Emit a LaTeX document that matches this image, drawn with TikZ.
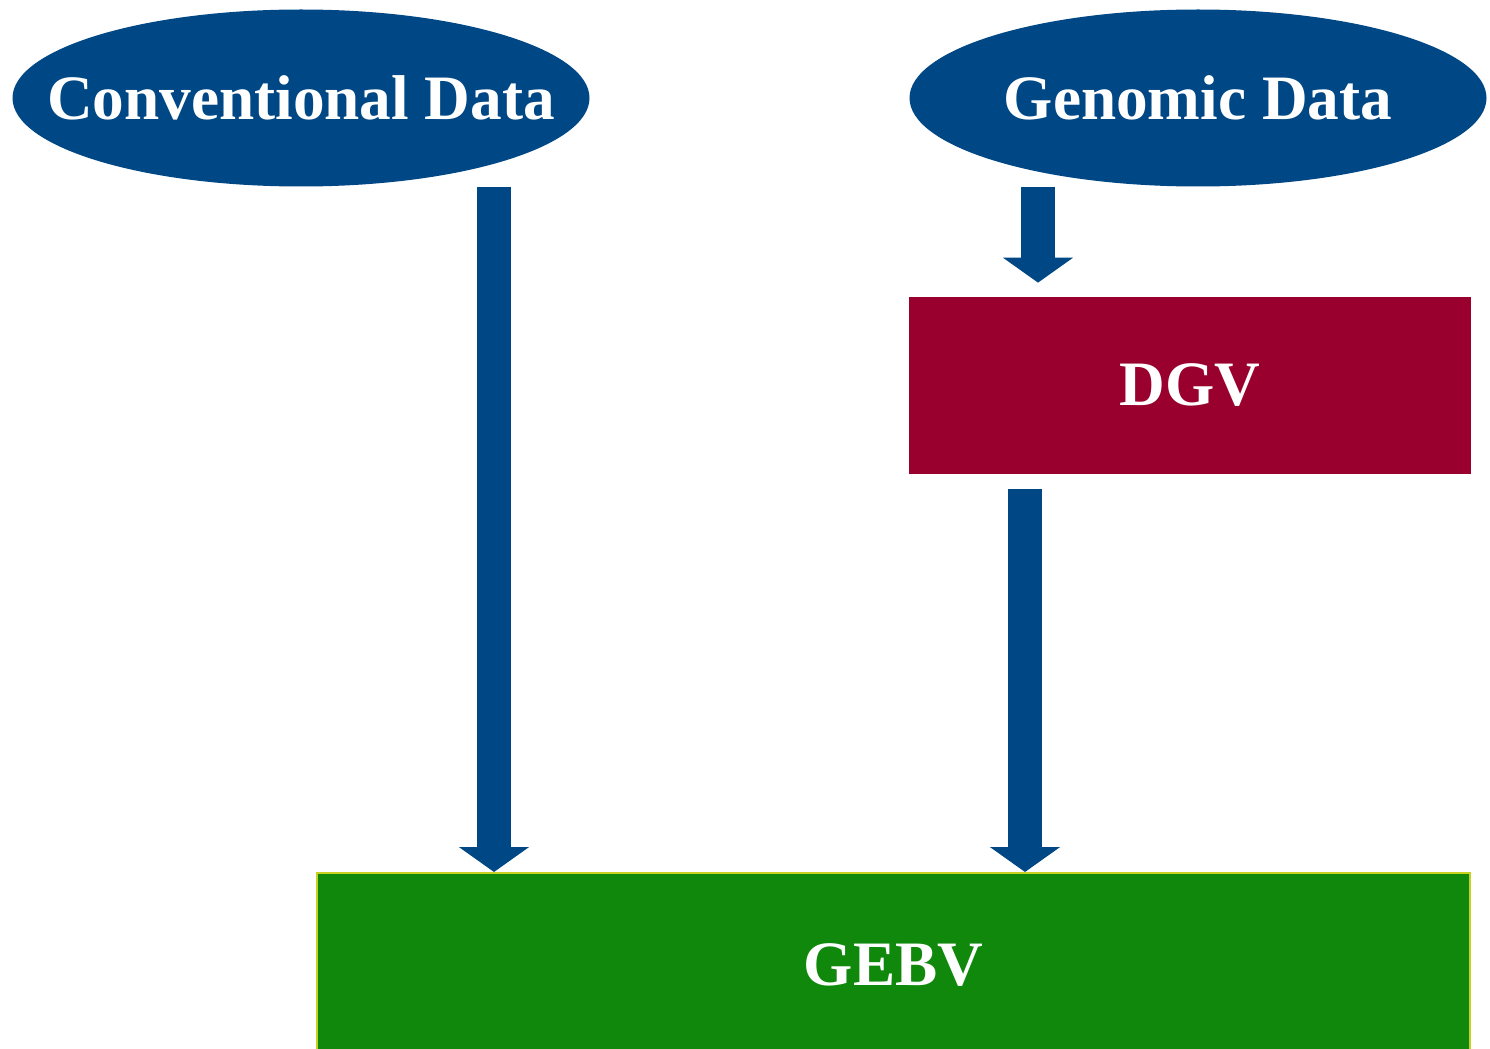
\documentclass[tikz,border=0pt]{standalone}
\usepackage{fontspec}
\setmainfont{Liberation Serif}
\usetikzlibrary{shapes.geometric,arrows.meta}
\definecolor{datablue}{RGB}{0,71,133}
\definecolor{dgvred}{RGB}{153,0,46}
\definecolor{gebvgreen}{RGB}{16,136,12}
\definecolor{gebvline}{RGB}{200,208,32}
\begin{document}
\begin{tikzpicture}[
        every node/.style={text=white, font=\fontsize{36}{43}\selectfont\bfseries, inner sep=0pt},
        datanode/.style={ellipse, fill=datablue, minimum width=11.54cm, minimum height=3.54cm},
        fatarrow/.style={datablue, line width=0.68cm, line cap=butt, -{Triangle[width=1.38cm, length=0.5cm]}}
    ]
        \useasboundingbox (0,0) rectangle (29.8,-20.96);

        \node [datanode] (conv) at (6.02, -1.96) {\makebox[0pt]{Conventional Data}};
        \node [datanode] (geno) at (23.96, -1.96) {\makebox[0pt]{Genomic Data}};
        \node [rectangle, fill=dgvred, minimum width=11.24cm, minimum height=3.54cm] (dgv) at (23.8, -7.71) {DGV};
        \node [rectangle, fill=gebvgreen, draw=gebvline, line width=0.04cm, minimum width=23.06cm, minimum height=3.7cm] (gebv) at (17.87, -19.31) {GEBV};

        \coordinate (xconv) at (9.88, 0);
        \coordinate (xgeno) at (20.76, 0);
        \coordinate (xdgv) at (20.5, 0);

        \draw [fatarrow] (conv.south -| xconv) -- (gebv.north -| xconv);
        \draw [fatarrow, shorten >=0.28cm] (geno.south -| xgeno) -- (dgv.north -| xgeno);
        \draw [fatarrow, shorten <=0.3cm] (dgv.south -| xdgv) -- (gebv.north -| xdgv);
    \end{tikzpicture}
\end{document}
